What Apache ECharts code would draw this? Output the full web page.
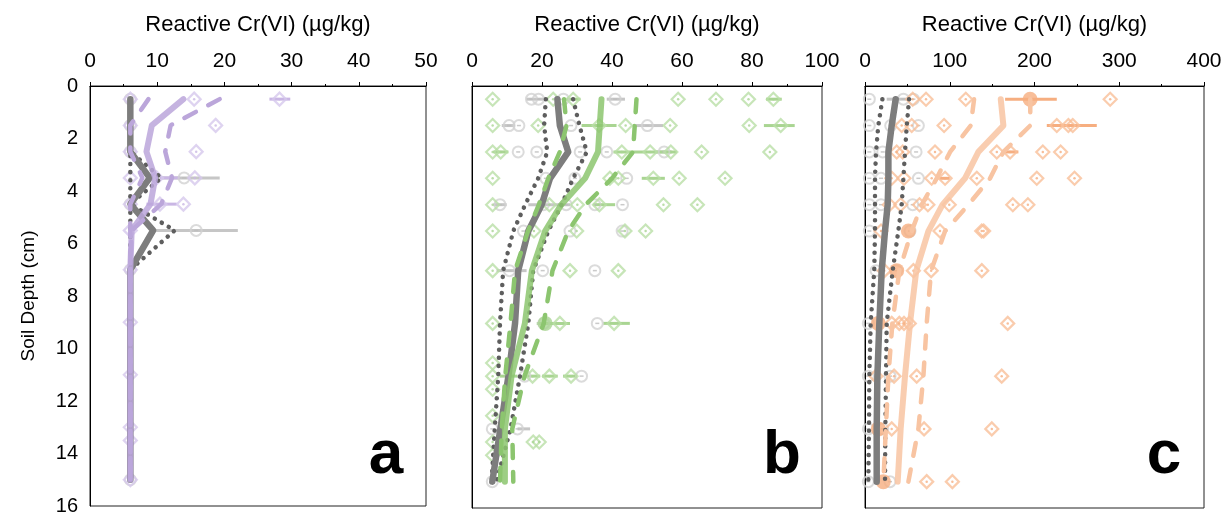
<!DOCTYPE html>
<html>
<head>
<meta charset="utf-8">
<script src="https://cdn.jsdelivr.net/npm/echarts@6/dist/echarts.min.js"></script>
<style>
  html, body { margin: 0; padding: 0; background: #fff; }
  #chart { width: 1225px; height: 516px; }
</style>
</head>
<body>
<div id="chart"></div>
<script>
// depths (cm) where the profile lines are sampled
var depths = [0.5, 1.5, 2.5, 3.5, 4.5, 5.5, 7, 9, 11, 13, 15];

// ---- panel a (purple) ----
var grayMeanA = [6, 6, 6, 8.9, 6, 9.4, 6, 6, 6, 6, 6];
var grayLowA = [6, 6, 6, 6, 6, 6, 6, 6, 6, 6, 6];
var grayHighA = [6, 6, 6, 10.6, 6, 12.6, 6, 6, 6, 6, 6];
var colMeanA = [13.9, 9.2, 8.4, 9.7, 9.0, 6.2, 6, 6, 6, 6, 6];
var colLowA = [8.7, 6, 6, 7.8, 6, 6, 6, 6, 6, 6, 6];
var colHighA = [19.3, 12, 11.2, 12.2, 10.6, 6.2, 6, 6, 6, 6, 6];
var colPointsA = [[6, 0.5], [15.5, 0.5], [28.2, 0.5], [6, 1.5], [18.7, 1.5], [6, 2.5], [15.8, 2.5],
  [6, 3.5], [9.9, 3.5], [15.6, 3.5], [6, 4.5], [10.4, 4.5], [13.9, 4.5], [6, 5.5], [6, 7],
  [6, 9], [6, 11], [6, 13], [6, 13.5], [6, 15]];
var colErrA = [[26.7, 29.8, 0.5], [10.4, 13.4, 3.5], [8.4, 12.9, 4.5]];
var grayPointsA = [[6, 0.5], [6, 1.5], [6, 2.5], [14.0, 3.5], [6, 4.5], [15.8, 5.5], [6, 7], [6, 15]];
var grayErrA = [[10.4, 19.3, 3.5], [9.4, 22.0, 5.5]];
var bigA = [];

// ---- panel b (green) ----
var grayMeanB = [24.4, 25.1, 27.5, 22.3, 19.9, 16.1, 13.2, 12.3, 10.4, 8.1, 5.8];
var grayLowB = [21.1, 20.6, 21.5, 18.9, 15.2, 11.8, 8.9, 8, 7.5, 6.5, 5.6];
var grayHighB = [28.9, 30.7, 32.8, 28.9, 25.6, 21.8, 17.5, 16.1, 13.7, 11, 7];
var colMeanB = [37, 36.5, 36, 32.3, 25.5, 20.9, 17.1, 15.1, 11.3, 9.4, 9.4];
var colLowB = [26.3, 27, 25.1, 21.8, 19.1, 16, 12.3, 11, 9.5, 8.5, 8];
var colHighB = [47, 46.5, 46, 40, 32.5, 27.5, 23, 20.5, 15, 11.5, 11.8];
var colPointsB = [
  [5.9, 0.5], [23.2, 0.5], [28.9, 0.5], [58.9, 0.5], [69.7, 0.5], [79, 0.5], [86.1, 0.5],
  [5.9, 1.5], [18.9, 1.5], [36.3, 1.5], [43.9, 1.5], [56.6, 1.5], [79.2, 1.5], [88.2, 1.5],
  [5.9, 2.5], [8.2, 2.5], [42.8, 2.5], [50.9, 2.5], [56.8, 2.5], [65.6, 2.5], [85.1, 2.5],
  [5.9, 3.5], [39.4, 3.5], [41.8, 3.5], [51.8, 3.5], [59.2, 3.5], [72.3, 3.5],
  [5.9, 4.5], [22.1, 4.5], [30.1, 4.5], [36.4, 4.5], [54.7, 4.5], [64.4, 4.5],
  [5.9, 5.5], [17.7, 5.5], [29.9, 5.5], [43.7, 5.5], [49.6, 5.5],
  [5.9, 7], [28, 7], [41.8, 7],
  [5.9, 9], [25.1, 9], [40.6, 9],
  [5.9, 10.5], [5.9, 11], [17.3, 11], [22.1, 11], [28.3, 11], [5.9, 11.5], [5.9, 12.5],
  [5.9, 13.5], [17.5, 13.5], [19.2, 13.5], [5.9, 14]];
var colErrB = [[27, 31, 0.5], [84, 88.5, 0.5], [31.3, 41.3, 1.5], [83.4, 92.2, 1.5],
  [6.1, 10.4, 2.5], [40.4, 58.5, 2.5], [48.5, 55.1, 3.5], [34.7, 40.9, 4.5],
  [18.5, 28, 9], [37.5, 45.1, 9], [8, 13, 11], [15, 19.5, 11], [20, 24.5, 11], [26, 30, 11]];
var grayPointsB = [
  [17, 0.5], [19, 0.5], [26.1, 0.5], [40.9, 0.5],
  [10.6, 1.5], [13.4, 1.5], [28.3, 1.5], [50.1, 1.5],
  [13.2, 2.5], [18.5, 2.5], [30.9, 2.5], [38.5, 2.5], [54.9, 2.5],
  [21.1, 3.5], [29.4, 3.5], [44.2, 3.5],
  [8, 4.5], [20.4, 4.5], [26.9, 4.5], [35.1, 4.5], [43, 4.5],
  [14.7, 5.5], [28, 5.5], [42.9, 5.5],
  [10.7, 7], [20.2, 7], [35.1, 7],
  [20.5, 9], [35.8, 9], [15.1, 11], [31.3, 11], [5.8, 13], [13, 13], [5.8, 15]];
var grayErrB = [[15.5, 21, 0.5], [38.5, 43.7, 0.5], [8.5, 12.3, 1.5], [46, 54.6, 1.5],
  [52, 57, 2.5], [6.1, 9.9, 4.5], [16.1, 28, 4.5], [7, 15.6, 7], [13, 16.6, 13]];
var bigB = [[20.9, 9]];

// ---- panel c (orange) ----
var grayMeanC = [36.2, 31.5, 27.6, 27.6, 26.8, 23.6, 19.7, 16.9, 14.6, 13.8, 13.8];
var grayLowC = [20.5, 15.7, 13, 11.8, 11.8, 11.8, 10.9, 6.7, 5.1, 4.7, 3.9];
var grayHighC = [52, 49.3, 47.2, 45.3, 43.3, 39.3, 32.7, 25.6, 24.8, 24, 23.6];
var colMeanC = [160.2, 163.3, 133.8, 118, 91.5, 74.8, 60.5, 53.1, 47.2, 42.1, 38.6];
var colLowC = [128.7, 124.8, 100.4, 84.6, 66.9, 55.1, 40.5, 32.3, 27.6, 24.6, 21.7];
var colHighC = [195, 195, 163.3, 147.6, 122, 94.5, 78, 72.8, 68.9, 63, 51.2];
var colPointsC = [
  [56.3, 0.5], [72, 0.5], [118.9, 0.5], [289.3, 0.5],
  [43.3, 1.5], [55.1, 1.5], [93.3, 1.5], [226.3, 1.5], [240, 1.5], [245.1, 1.5],
  [37.4, 2.5], [44.5, 2.5], [82.6, 2.5], [155.5, 2.5], [171.2, 2.5], [209.8, 2.5], [230.8, 2.5],
  [31.5, 3.5], [46, 3.5], [78.7, 3.5], [94.5, 3.5], [131.9, 3.5], [202.7, 3.5], [247.2, 3.5],
  [28.7, 4.5], [42.1, 4.5], [64.3, 4.5], [74.2, 4.5], [99.4, 4.5], [174.4, 4.5], [192.2, 4.5],
  [18.9, 5.5], [88.5, 5.5], [137.7, 5.5], [140, 5.5],
  [22.8, 7], [57.1, 7], [78.1, 7], [137.8, 7],
  [31.5, 9], [40.5, 9], [46, 9], [52.3, 9], [168.4, 9],
  [13, 11], [34.3, 11], [61, 11], [161.3, 11],
  [31.5, 13], [69.7, 13], [149.6, 13],
  [72.8, 15], [103.1, 15]];
var colErrC = [[165.3, 226.3, 0.5], [214.5, 273.5, 1.5], [161.4, 181, 2.5], [88, 100, 3.5]];
var grayPointsC = [
  [5.1, 0.5], [45.3, 0.5], [57.1, 0.5], [5.1, 1.5], [30.3, 1.5], [63, 1.5],
  [5.1, 2.5], [20.9, 2.5], [60.3, 2.5], [5.1, 3.5], [18.9, 3.5], [63, 3.5],
  [5.1, 4.5], [18.9, 4.5], [56.3, 4.5], [5.1, 5.5], [53.1, 5.5], [13, 7], [37, 7],
  [3.9, 9], [3.9, 11], [29.5, 11], [3.9, 13], [21, 13], [3.9, 15], [29.5, 15]];
var grayErrC = [[25.6, 51.2, 0.5]];
var bigC = [[194.8, 0.5], [51.2, 5.5], [37.4, 7], [15.7, 9], [15.7, 13], [21.6, 15]];

var panels = [
  { max: 50, interval: 10, col: '#bba6da', pt: '#d6c8ec', err: '#c9b6e4', big: 'rgba(190,170,225,0.7)', letter: 'a',
    grayMean: grayMeanA, grayLow: grayLowA, grayHigh: grayHighA, colMean: colMeanA, colLow: colLowA, colHigh: colHighA,
    colPts: colPointsA, colErr: colErrA, grayPts: grayPointsA, grayErr: grayErrA, big: bigA },
  { max: 100, interval: 20, col: '#8cc56f', pt: '#b9dea6', err: '#a9d592', big: 'rgba(185,222,166,0.8)', letter: 'b',
    grayMean: grayMeanB, grayLow: grayLowB, grayHigh: grayHighB, colMean: colMeanB, colLow: colLowB, colHigh: colHighB,
    colPts: colPointsB, colErr: colErrB, grayPts: grayPointsB, grayErr: grayErrB, big: bigB },
  { max: 400, interval: 100, col: '#f8c4a2', pt: '#f9bf98', err: '#f6ae80', big: 'rgba(246,170,125,0.75)', letter: 'c',
    grayMean: grayMeanC, grayLow: grayLowC, grayHigh: grayHighC, colMean: colMeanC, colLow: colLowC, colHigh: colHighC,
    colPts: colPointsC, colErr: colErrC, grayPts: grayPointsC, grayErr: grayErrC, big: bigC }
];

var gridBoxes = [
  { left: 90, top: 86, width: 336, height: 422 },
  { left: 472, top: 86, width: 350, height: 422 },
  { left: 865, top: 86, width: 339, height: 422 }
];

var font = 'Liberation Sans, Arial, sans-serif';

function pairs(xs) {
  return xs.map(function (x, i) { return [x, depths[i]]; });
}

function errSeries(idx, data, color) {
  return {
    type: 'custom', xAxisIndex: idx, yAxisIndex: idx, z: 2,
    data: data, encode: { x: [0, 1], y: 2 },
    renderItem: function (params, api) {
      var a = api.coord([api.value(0), api.value(2)]);
      var b = api.coord([api.value(1), api.value(2)]);
      return { type: 'line', shape: { x1: a[0], y1: a[1], x2: b[0], y2: b[1] },
        style: { stroke: color, lineWidth: 3 } };
    }
  };
}

function lineSeries(idx, xs, color, width, type, z, opacity) {
  return {
    type: 'line', xAxisIndex: idx, yAxisIndex: idx, data: pairs(xs), z: z,
    symbol: 'none', silent: true,
    lineStyle: { color: color, width: width, type: type, cap: 'round', join: 'round', opacity: opacity || 1 }
  };
}

var grid = [], xAxis = [], yAxis = [], series = [], graphic = [];

panels.forEach(function (p, i) {
  grid.push(Object.assign({ show: true, borderColor: '#222', borderWidth: 1, backgroundColor: '#fff' }, gridBoxes[i]));
  xAxis.push({
    type: 'value', gridIndex: i, position: 'top', min: 0, max: p.max, interval: p.interval,
    name: 'Reactive Cr(VI) (µg/kg)', nameLocation: 'middle', nameGap: 50,
    nameTextStyle: { fontFamily: font, fontSize: 22, color: '#000' },
    axisLine: { lineStyle: { color: '#000', width: 1 } },
    axisTick: { length: 4, lineStyle: { color: '#000' } },
    minorTick: { show: true, splitNumber: 2, length: 2, lineStyle: { color: '#000' } },
    axisLabel: { fontFamily: font, fontSize: 21, color: '#000', margin: 14 },
    splitLine: { show: false }
  });
  yAxis.push({
    type: 'value', gridIndex: i, inverse: true, min: 0, max: 16, interval: 2,
    name: i === 0 ? 'Soil Depth (cm)' : '', nameLocation: 'middle', nameGap: 52,
    nameTextStyle: { fontFamily: font, fontSize: 19, color: '#000' },
    axisLine: { show: true, lineStyle: { color: '#000' } },
    axisTick: { show: false },
    axisLabel: { show: i === 0, fontFamily: font, fontSize: 20, color: '#000', margin: 12 },
    splitLine: { show: false }
  });

  // error bars
  series.push(errSeries(i, p.grayErr, '#c6c6c6'));
  series.push(errSeries(i, p.colErr, p.err));
  // gray circles
  series.push({ type: 'scatter', xAxisIndex: i, yAxisIndex: i, data: p.grayPts, z: 3, symbol: 'circle', symbolSize: 11,
    itemStyle: { color: 'rgba(255,255,255,0)', borderColor: '#d2d2d2', borderWidth: 2 } });
  series.push({ type: 'scatter', xAxisIndex: i, yAxisIndex: i, data: p.grayPts, z: 3, symbol: 'rect', symbolSize: [4, 1.5],
    itemStyle: { color: '#bdbdbd' } });
  // coloured diamonds
  series.push({ type: 'scatter', xAxisIndex: i, yAxisIndex: i, data: p.colPts, z: 3, symbol: 'diamond', symbolSize: 13,
    itemStyle: { color: 'rgba(255,255,255,0)', borderColor: p.pt, borderWidth: 2.2 } });
  series.push({ type: 'scatter', xAxisIndex: i, yAxisIndex: i, data: p.colPts, z: 3, symbol: 'circle', symbolSize: 2.5,
    itemStyle: { color: p.err } });
  series.push({ type: 'scatter', xAxisIndex: i, yAxisIndex: i, data: p.big, z: 3, symbol: 'circle', symbolSize: 15,
    itemStyle: { color: p.big } });
  // profile lines
  series.push(lineSeries(i, p.grayLow, '#5e5e5e', 4.5, [0.1, 8], 4));
  series.push(lineSeries(i, p.grayHigh, '#5e5e5e', 4.5, [0.1, 8], 4));
  series.push(lineSeries(i, p.grayMean, '#7d7d7d', 6.5, 'solid', 5));
  series.push(lineSeries(i, p.colLow, p.col, 4.5, [13, 14], 6));
  series.push(lineSeries(i, p.colHigh, p.col, 4.5, [13, 14], 6));
  series.push(lineSeries(i, p.colMean, p.col, 6, 'solid', 7, 0.85));

  graphic.push({
    type: 'text', z: 100,
    x: gridBoxes[i].left + gridBoxes[i].width - 40, y: 487,
    style: { text: p.letter, fontFamily: font, fontSize: 62, fontWeight: 'bold', fill: '#000',
      textAlign: 'center', textVerticalAlign: 'bottom' }
  });
});

var chart = echarts.init(document.getElementById('chart'));
chart.setOption({
  animation: false,
  grid: grid,
  xAxis: xAxis,
  yAxis: yAxis,
  series: series,
  graphic: graphic
});
</script>
</body>
</html>
